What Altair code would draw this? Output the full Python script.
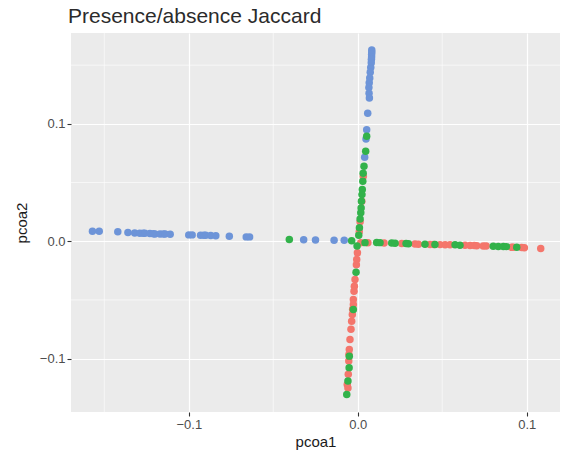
import altair as alt
import pandas as pd

# PCoA coordinates (presence/absence Jaccard distance), one list pair per group
blue_x = [-0.157, -0.153, -0.142, -0.136, -0.132, -0.129, -0.127, -0.126, -0.123,
          -0.121, -0.120, -0.117, -0.115, -0.114, -0.111, -0.100, -0.098, -0.093,
          -0.091, -0.090, -0.087, -0.084, -0.076, -0.066, -0.064, -0.032, -0.025,
          -0.014, -0.008,
          0.0083, 0.0083, 0.0082, 0.0082, 0.0081, 0.0080, 0.0077, 0.0074, 0.0071,
          0.0068, 0.0066, 0.0067, 0.0069, 0.0059, 0.0053, 0.0049, 0.0041]
blue_y = [0.0085, 0.0085, 0.0080, 0.0074, 0.0071, 0.0068, 0.0068, 0.0067, 0.0065,
          0.0064, 0.0062, 0.0062, 0.0061, 0.0062, 0.0060, 0.0054, 0.0054, 0.0051,
          0.0050, 0.0050, 0.0048, 0.0047, 0.0043, 0.0037, 0.0037, 0.0012, 0.0011,
          0.0008, 0.0008,
          0.163, 0.161, 0.159, 0.157, 0.155, 0.152, 0.148, 0.144, 0.139,
          0.135, 0.131, 0.126, 0.122, 0.109, 0.095, 0.087, 0.0715]

red_x = [0.0018, 0.0060, 0.0156, 0.0260, 0.0339, 0.0359, 0.0428, 0.0450, 0.0487,
         0.0517, 0.0546, 0.0635, 0.0665, 0.0690, 0.0704, 0.0743, 0.0760, 0.0911,
         0.0920, 0.0970, 0.0986, 0.1083,
         0.0033, 0.0024, 0.0014, 0.0009,
         -0.0002, -0.0006, -0.0008, -0.0016, -0.0020, -0.0022, -0.0026, -0.0026,
         -0.0030, -0.0032, -0.0036, -0.0040, -0.0046, -0.0050, -0.0052, -0.0053,
         -0.0056, -0.0062, -0.0058]
red_y = [-0.0014, -0.0013, -0.0016, -0.0020, -0.0024, -0.0026, -0.0027, -0.0028,
         -0.0029, -0.0030, -0.0031, -0.0035, -0.0036, -0.0037, -0.0038, -0.0040,
         -0.0041, -0.0051, -0.0051, -0.0053, -0.0055, -0.0062,
         0.0553, 0.0340, 0.0165, 0.0080,
         -0.0099, -0.0156, -0.0200, -0.0326, -0.0383, -0.0426, -0.0496, -0.0539,
         -0.0580, -0.0624, -0.0681, -0.0750, -0.0837, -0.0922, -0.0964, -0.1021,
         -0.1134, -0.1220, -0.1250]

green_x = [-0.0405, -0.0036,
           0.0043, 0.0112, 0.0132, 0.0201, 0.0221, 0.0286, 0.0300, 0.0398, 0.0457,
           0.0576, 0.0605, 0.0802, 0.0832, 0.0862, 0.0880, 0.0941,
           0.0053, 0.0047, 0.0037, 0.0032, 0.0030, 0.0027, 0.0025, 0.0022, 0.0020,
           0.0018, 0.0014, 0.0010, 0.0006,
           -0.0004, -0.0010, -0.0026, -0.0050, -0.0051, -0.0058, -0.0065]
green_y = [0.0014, 0.0005,
           -0.0012, -0.0011, -0.0012, -0.0016, -0.0017, -0.0020, -0.0021, -0.0025,
           -0.0028, -0.0031, -0.0034, -0.0043, -0.0044, -0.0045, -0.0046, -0.0052,
           0.0894, 0.0766, 0.0638, 0.0580, 0.0511, 0.0440, 0.0397, 0.0340, 0.0284,
           0.0242, 0.0190, 0.0114, 0.0050,
           -0.0040, -0.0264, -0.0581, -0.0979, -0.1077, -0.1191, -0.1305]

groups = ["A", "B", "C"]
colors = ["#F4766C", "#32B24A", "#6D94D8"]

x_major = [-0.1, 0.0, 0.1]
y_major = [-0.1, 0.0, 0.1]
x_minor = [-0.15, -0.05, 0.05]
y_minor = [-0.05, 0.05, 0.15]

x_domain = [-0.1697, 0.1197]
y_domain = [-0.1455, 0.1774]

points = pd.concat([
    pd.DataFrame({"pcoa1": blue_x, "pcoa2": blue_y, "group": "C"}),
    pd.DataFrame({"pcoa1": red_x, "pcoa2": red_y, "group": "A"}),
    pd.DataFrame({"pcoa1": green_x, "pcoa2": green_y, "group": "B"}),
], ignore_index=True)

x_scale = alt.Scale(domain=x_domain, nice=False, zero=False)
y_scale = alt.Scale(domain=y_domain, nice=False, zero=False)
x_axis = alt.Axis(values=x_major, format=".1f")
y_axis = alt.Axis(values=y_major, format=".1f")

# thin white minor grid lines between the major ones
minor_v = alt.Chart(pd.DataFrame({"v": x_minor})).mark_rule(
    color="white", strokeWidth=0.6
).encode(x=alt.X("v:Q", scale=x_scale, axis=x_axis, title="pcoa1"))

minor_h = alt.Chart(pd.DataFrame({"v": y_minor})).mark_rule(
    color="white", strokeWidth=0.6
).encode(y=alt.Y("v:Q", scale=y_scale, axis=y_axis, title="pcoa2"))

dots = alt.Chart(points).mark_circle(size=56, opacity=1).encode(
    x=alt.X("pcoa1:Q", scale=x_scale, title="pcoa1", axis=x_axis),
    y=alt.Y("pcoa2:Q", scale=y_scale, title="pcoa2", axis=y_axis),
    color=alt.Color("group:N", scale=alt.Scale(domain=groups, range=colors),
                    legend=None),
)

chart = alt.layer(minor_v, minor_h, dots).properties(
    width=489,
    height=379,
    autosize=alt.AutoSizeParams(type="none"),
    padding={"left": 71, "top": 33, "right": 3, "bottom": 47},
    title=alt.Title("Presence/absence Jaccard", anchor="start", frame="group",
                    fontSize=21, font="Liberation Sans", fontWeight="normal",
                    color="#2b2b2b", offset=6, dx=-3),
).configure_view(
    fill="#EBEBEB", stroke=None
).configure_axis(
    domain=False,
    grid=True,
    gridColor="white",
    gridWidth=1.2,
    tickColor="#333333",
    tickSize=4,
    tickWidth=1.1,
    labelColor="#4D4D4D",
    labelFont="Liberation Sans",
    labelFontSize=13,
    labelPadding=2,
    titleFont="Liberation Sans",
    titleFontSize=15,
    titleFontWeight="normal",
    titleColor="#1a1a1a",
).configure_axisX(
    titlePadding=3,
).configure_axisY(
    titlePadding=10,
)

chart.save("out.html", embed_options={"renderer": "svg", "actions": False})
